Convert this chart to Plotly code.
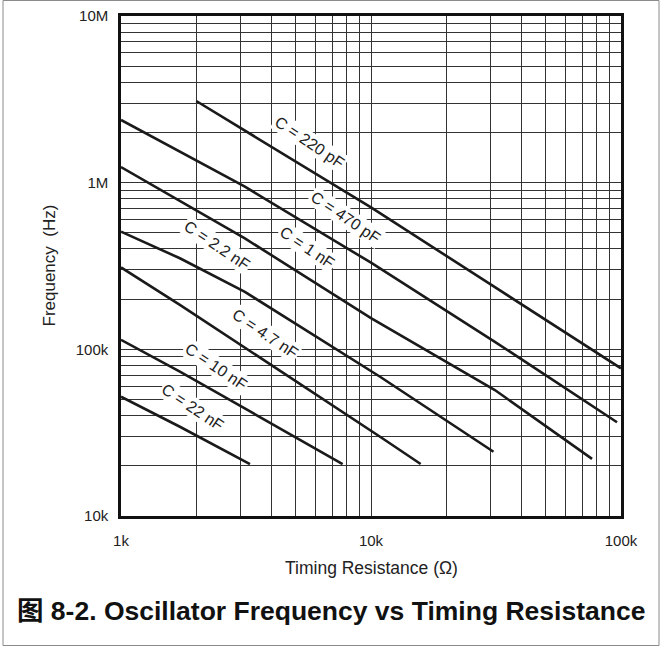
import plotly.graph_objects as go
import numpy as np

# ---- data ----
r_220p = [2000, 10000, 31300, 100000]
f_220p = [3.09e6, 7.11e5, 2.36e5, 7.69e4]

r_470p = [1000, 3130, 10000, 31300, 96400]
f_470p = [2.38e6, 9.46e5, 3.31e5, 1.11e5, 3.65e4]

r_1n = [1000, 3130, 10000, 31300, 76600]
f_1n = [1.24e6, 4.63e5, 1.54e5, 5.70e4, 2.20e4]

r_2n2 = [1000, 1720, 3130, 10870, 30900]
f_2n2 = [5.08e5, 3.52e5, 2.21e5, 6.85e4, 2.43e4]

r_4n7 = [1000, 1720, 10870, 15800]
f_4n7 = [3.10e5, 1.85e5, 2.99e4, 2.05e4]

r_10n = [1000, 1720, 7700]
f_10n = [1.14e5, 7.35e4, 2.05e4]

r_22n = [1000, 1720, 3280]
f_22n = [5.20e4, 3.43e4, 2.05e4]

series_names = ["C = 220 pF", "C = 470 pF", "C = 1 nF", "C = 2.2 nF",
                "C = 4.7 nF", "C = 10 nF", "C = 22 nF"]
series_r = [r_220p, r_470p, r_1n, r_2n2, r_4n7, r_10n, r_22n]
series_f = [f_220p, f_470p, f_1n, f_2n2, f_4n7, f_10n, f_22n]

x_tick_vals = [1e3, 1e4, 1e5]
x_tick_text = ["1k", "10k", "100k"]
y_tick_vals = [1e4, 1e5, 1e6, 1e7]
y_tick_text = ["10k", "100k", "1M", "10M"]

x_title = "Timing Resistance (Ω)"
y_title = "Frequency\u00a0\u00a0(Hz)"
chart_title = "<b>图 8-2. Oscillator Frequency vs Timing Resistance</b>"

# label anchor positions (R, f) for curve labels
label_r = [5700, 7940, 5550, 2420, 3770, 2400, 1940]
label_f = [1.75e6, 6.22e5, 4.06e5, 4.17e5, 1.25e5, 7.94e4, 4.45e4]
label_angle = 34

FONT = "Liberation Sans, Arial, Noto Sans CJK SC, sans-serif"
GRID = "#333333"
TXT = "#222"

# plot area in pixels
L, R, T, B = 121, 621, 16, 516
W, H = R - L, B - T

def px_to_paper(px, py):
    return (px - L) / W, (B - py) / H

fig = go.Figure()
for name, r, f in zip(series_names, series_r, series_f):
    fig.add_trace(go.Scatter(x=r, y=f, mode="lines", name=name,
                             line=dict(color="#1a1a1a", width=2.6),
                             showlegend=False, hoverinfo="skip"))

for name, lr, lf in zip(series_names, label_r, label_f):
    fig.add_annotation(x=np.log10(lr), y=np.log10(lf), xref="x", yref="y",
                       text=name, showarrow=False, textangle=label_angle,
                       bgcolor="white", borderpad=1,
                       font=dict(family=FONT, size=16, color=TXT))

def minor_vals(lo, hi):
    vals = []
    d = lo
    while d < hi:
        vals += [k * d for k in range(2, 10)]
        d *= 10
    return vals

common = dict(showgrid=True, gridcolor=GRID, gridwidth=1,
              showline=True, linecolor="#111", linewidth=2.5, mirror=True,
              ticks="", zeroline=False, automargin=False,
              tickfont=dict(family=FONT, size=15, color=TXT))

fig.update_xaxes(type="log", range=[3, 5], tickvals=x_tick_vals, ticktext=x_tick_text,
                 minor=dict(tickvals=minor_vals(1e3, 1e5), showgrid=True,
                            gridcolor=GRID, gridwidth=1, ticks=""),
                 ticklabelstandoff=9, **common)
fig.update_yaxes(type="log", range=[4, 7], tickvals=y_tick_vals, ticktext=y_tick_text,
                 minor=dict(tickvals=minor_vals(1e4, 1e7), showgrid=True,
                            gridcolor=GRID, gridwidth=1, ticks=""),
                 ticklabelstandoff=7, **common)

# axis titles
xt = px_to_paper(371, 580)
fig.add_annotation(text=x_title, xref="paper", yref="paper", x=xt[0], y=xt[1],
                   showarrow=False, font=dict(family=FONT, size=17.5, color=TXT))
yt = px_to_paper(37, 266)
fig.add_annotation(text=y_title, xref="paper", yref="paper", x=yt[0], y=yt[1],
                   showarrow=False, textangle=-90, font=dict(family=FONT, size=17, color=TXT))

# outer gray frame
f0 = px_to_paper(3, 645.5)
f1 = px_to_paper(659, 0.5)
fig.add_shape(type="rect", xref="paper", yref="paper",
              x0=f0[0], x1=f1[0], y0=f0[1], y1=f1[1],
              line=dict(color="#8a8a8a", width=1), layer="below")

tt = px_to_paper(331, 611)
fig.add_annotation(text=chart_title, xref="paper", yref="paper", x=tt[0], y=tt[1],
                   showarrow=False, xanchor="center", yanchor="middle",
                   font=dict(family=FONT, size=26.5, color="#111"))

fig.update_layout(width=662, height=648, paper_bgcolor="white", plot_bgcolor="white",
                  margin=dict(l=L, r=662 - R, t=T, b=648 - B), showlegend=False)

fig.write_html("out.html", config={"displayModeBar": False},
               post_script="document.body.style.margin='0';document.body.style.overflow='hidden';")
